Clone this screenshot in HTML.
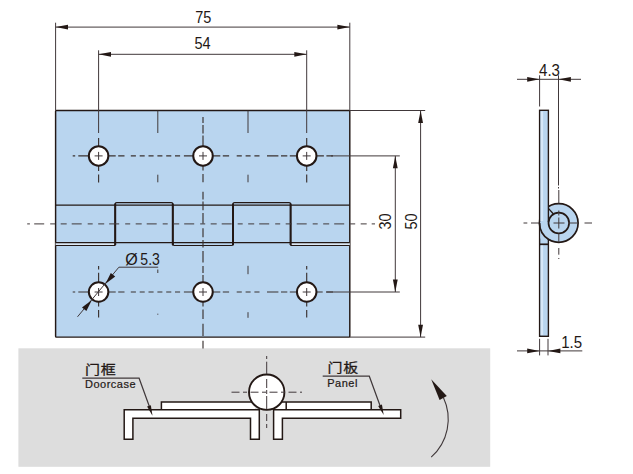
<!DOCTYPE html>
<html lang="zh">
<head>
<meta charset="utf-8">
<title>Hinge drawing</title>
<style>
html,body{margin:0;padding:0;background:#fff;}
body{width:633px;height:474px;overflow:hidden;}
svg{display:block;}
</style>
</head>
<body>
<svg width="633" height="474" viewBox="0 0 633 474">
<rect x="0" y="0" width="633" height="474" fill="#fff"/>
<rect x="18.4" y="348.3" width="471.8" height="118.5" fill="#dddddd"/>
<rect x="55.6" y="110.5" width="294.2" height="226.6" rx="0.8" fill="#b9d5ef" stroke="#231815" stroke-width="1.45"/>
<rect x="55.6" y="242.6" width="59.6" height="2.9" fill="#dce9f6"/>
<rect x="290.6" y="242.6" width="59.2" height="2.9" fill="#dce9f6"/>
<g fill="none" stroke="#231815" stroke-width="1.2" stroke-linejoin="round">
<path d="M55.6,205.1 H349.8"/>
<path d="M55.6,242.6 H349.8"/>
<path d="M55.6,245.5 H115.2 M290.6,245.5 H349.8"/>
<path d="M115.2,245.5 V204.0 Q115.2,202.5 116.7,202.5 H171.3 Q172.8,202.5 172.8,204.0 V245.5" stroke-width="1.25"/><path d="M115.2,203.5 V245.0 M172.8,203.5 V245.0" stroke-width="2"/>
<path d="M233.0,245.5 V204.0 Q233.0,202.5 234.5,202.5 H289.1 Q290.6,202.5 290.6,204.0 V245.5" stroke-width="1.25"/><path d="M233.0,203.5 V245.0 M290.6,203.5 V245.0" stroke-width="2"/>
<path d="M172.8,242.6 V244.0 Q172.8,245.5 174.3,245.5 H231.5 Q233.0,245.5 233.0,244.0 V242.6"/>
</g>
<g fill="none" stroke="#3a3230" stroke-width="1.15">
<path d="M72.7,155.9 H75.2 M78.3,155.9 H90 M108,155.9 H115.7 M118.2,155.9 H124.5 M130.8,155.9 H135.9 M139.7,155.9 H144.7 M148.5,155.9 H153.6 M157.4,155.9 H162.4 M166.2,155.9 H171.3 M175,155.9 H180.1 M183.9,155.9 H194 M212,155.9 H220.3 M222.8,155.9 H229.1 M236.7,155.9 H241.8 M245.6,155.9 H250.6 M254.4,155.9 H259.5 M267,155.9 H278.4 M281,155.9 H287.3 M289.8,155.9 H298 M316,155.9 H323.9 M326.4,155.9 H333"/>
<path d="M72.7,292.0 H75.2 M78.3,292.0 H90 M108,292.0 H115.7 M118.2,292.0 H124.5 M130.8,292.0 H135.9 M139.7,292.0 H144.7 M148.5,292.0 H153.6 M157.4,292.0 H162.4 M166.2,292.0 H171.3 M175,292.0 H180.1 M183.9,292.0 H194 M212,292.0 H220.3 M222.8,292.0 H229.1 M236.7,292.0 H241.8 M245.6,292.0 H250.6 M254.4,292.0 H259.5 M267,292.0 H278.4 M281,292.0 H287.3 M289.8,292.0 H298 M316,292.0 H322.7 M326.4,292.0 H333"/>
<path d="M27.2,223.9 H29.9" stroke="#40383a" stroke-width="1"/>
<path d="M34.2,223.9 H375" stroke-dasharray="10 6 5 5.5 6 5" stroke="#40383a" stroke-width="1"/>
<path d="M203.0,116.9 V123.1 M203.0,125.1 V133.4 M203.0,135.4 V146 M203.0,166 V170.5 M203.0,174 V182.2 M203.0,191.8 V199.4 M203.0,201.4 V210.3 M203.0,213 V223.5 M203.0,228.3 V237.2 M203.0,240 V247.5 M203.0,250.9 V262.6 M203.0,266 V272.9 M203.0,274.9 V282 M203.0,301.5 V306.6 M203.0,309.5 V319 M203.0,323.7 V336 M203.0,340.8 V348.4"/>
<path d="M98.6,138 V146 M98.6,166 V171 M98.6,174.4 V182.6 M98.6,266 V269.4 M98.6,272.8 V282 M98.6,301.5 V306.4 M98.6,309.9 V317.4"/>
<path d="M306.7,138 V146 M306.7,166 V171 M306.7,174.4 V182.6 M306.7,266 V269.4 M306.7,272.8 V282 M306.7,301.5 V306.4 M306.7,309.9 V317.4"/>
<path d="M157.8,110.5 V133 M157.8,174.7 V182.3 M157.8,269.5 V273 M157.8,313.7 V314.7" stroke-width="0.95"/>
<path d="M248.0,110.5 V133 M248.0,174.7 V182.3 M248.0,265.8 V274.2 M248.0,312.2 V317.8" stroke-width="0.95"/>
</g>
<circle cx="98.6" cy="155.9" r="9.75" fill="#fff" stroke="#231815" stroke-width="2"/>
<path d="M94.6,155.9 H102.6 M98.6,151.9 V159.9" stroke="#40383a" stroke-width="1" fill="none"/>
<circle cx="203.0" cy="155.9" r="9.75" fill="#fff" stroke="#231815" stroke-width="2"/>
<path d="M199.0,155.9 H207.0 M203.0,151.9 V159.9" stroke="#40383a" stroke-width="1" fill="none"/>
<circle cx="306.7" cy="155.9" r="9.75" fill="#fff" stroke="#231815" stroke-width="2"/>
<path d="M302.7,155.9 H310.7 M306.7,151.9 V159.9" stroke="#40383a" stroke-width="1" fill="none"/>
<circle cx="98.6" cy="292.0" r="9.75" fill="#fff" stroke="#231815" stroke-width="2"/>
<path d="M94.6,292.0 H102.6 M98.6,288.0 V296.0" stroke="#40383a" stroke-width="1" fill="none"/>
<circle cx="203.0" cy="292.0" r="9.75" fill="#fff" stroke="#231815" stroke-width="2"/>
<path d="M199.0,292.0 H207.0 M203.0,288.0 V296.0" stroke="#40383a" stroke-width="1" fill="none"/>
<circle cx="306.7" cy="292.0" r="9.75" fill="#fff" stroke="#231815" stroke-width="2"/>
<path d="M302.7,292.0 H310.7 M306.7,288.0 V296.0" stroke="#40383a" stroke-width="1" fill="none"/>
<g fill="none" stroke="#40383a" stroke-width="1">
<path d="M55.6,22.7 V110.5 M349.8,22.7 V110.5 M55.6,27.1 H349.8"/>
<path d="M98.6,50.3 V133 M306.7,50.3 V133 M98.6,54.3 H306.7"/>
<path d="M349.8,110.5 H425.2 M349.8,337.1 H425.2 M420.6,110.5 V337.1"/>
<path d="M331,155.9 H399.8 M326,292.0 H399.8 M395.3,155.9 V292.0"/>
<path d="M77.5,316.8 L118.9,267.2 H158.2"/>
</g>
<polygon points="55.60,27.10 68.00,24.70 68.00,29.50" fill="#231815"/>
<polygon points="349.80,27.10 337.40,29.50 337.40,24.70" fill="#231815"/>
<polygon points="98.60,54.30 111.00,51.90 111.00,56.70" fill="#231815"/>
<polygon points="306.70,54.30 294.30,56.70 294.30,51.90" fill="#231815"/>
<polygon points="420.60,110.50 423.00,122.90 418.20,122.90" fill="#231815"/>
<polygon points="420.60,337.10 418.20,324.70 423.00,324.70" fill="#231815"/>
<polygon points="395.30,155.90 397.70,168.30 392.90,168.30" fill="#231815"/>
<polygon points="395.30,292.00 392.90,279.60 397.70,279.60" fill="#231815"/>
<polygon points="105.33,283.94 110.83,272.90 115.21,276.55" fill="#231815"/>
<polygon points="91.87,300.06 86.37,311.10 81.99,307.45" fill="#231815"/>
<g font-family="'Liberation Sans', sans-serif" fill="#231815" font-size="15.6px" text-anchor="middle">
<text transform="translate(203.3,23.2) scale(0.93,1)">75</text>
<text transform="translate(202.6,48.9) scale(0.93,1)">54</text>
<text transform="translate(391.2,221.5) rotate(-90) scale(0.93,1)">30</text>
<text transform="translate(416.6,221.5) rotate(-90) scale(0.93,1)">50</text>
<text transform="translate(125.3,265.0) scale(0.98,1)" font-size="16.4px" text-anchor="start">Ø<tspan dx="2.6" textLength="19.9" lengthAdjust="spacingAndGlyphs">5.3</tspan></text>
<text transform="translate(549.5,75.5) scale(0.93,1)" font-size="16.2px">4.3</text>
<text transform="translate(571.6,347.7) scale(0.93,1)" font-size="16.2px">1.5</text>
</g>
<g stroke="#231815" stroke-width="1.7" fill="#b9d5ef" stroke-linejoin="miter">
<circle cx="558.8" cy="223.0" r="19.3"/>
<rect x="539.6" y="110.3" width="8.8" height="226.0" stroke-width="1.4"/>
<rect x="540.35" y="222.0" width="9.8" height="16.56" stroke="none"/>
<path d="M539.6,223.0 A19.3,19.3 0 0 0 548.4,239.26" fill="none"/>
<circle cx="558.8" cy="223.0" r="10.3"/>
<path d="M548.4,208.4 L553.2,213.8" fill="none" stroke-width="1.3"/>
<path d="M539.6,244.3 H548.4" fill="none"/>
</g>
<path d="M541.9,111.5 V221 M541.9,245.5 V335.1" stroke="#d6e7f8" stroke-width="2.4" fill="none"/>
<g fill="none" stroke="#40383a" stroke-width="1">
<path d="M523.5,223.0 H527.3 M531,223.0 H539 M553.5,223.0 H564.5 M568,223.0 H578 M584.5,223.0 H592"/>
<path d="M558.8,190 V203.5 M558.8,210.5 V215.5 M558.8,217.5 V228.5 M558.8,233.5 V242 M558.8,248 V254.7 M558.8,258 V259" />
</g>
<g fill="none" stroke="#40383a" stroke-width="1">
<path d="M517,79.3 H581 M539.6,75.3 V106.5 M558.5,75.3 V185.5 M558.5,187 V188.5"/>
<path d="M517,350.9 H582.3 M539.6,338.8 V355.4 M548.0,338.8 V355.4"/>
</g>
<polygon points="539.60,79.30 527.20,81.70 527.20,76.90" fill="#231815"/>
<polygon points="558.50,79.30 570.90,76.90 570.90,81.70" fill="#231815"/>
<polygon points="539.60,350.90 527.20,353.30 527.20,348.50" fill="#231815"/>
<polygon points="548.00,350.90 560.40,348.50 560.40,353.30" fill="#231815"/>
<g stroke="#231815" stroke-width="1.5" fill="#fff" stroke-linejoin="miter">
<path d="M255,401.9 H161.4 V409.8 H255" />
<rect x="274" y="401.9" width="97.2" height="7.9" stroke="none"/>
<path d="M282,401.9 H371.2 V409.8 H274 M286.2,401.9 V409.8" fill="none"/>
<path d="M124.2,409.8 H259.3 V439.2 H250.5 V418.3 H132.9 V439.2 H124.2 Z"/>
<path d="M273.6,409.8 H400.7 V418.3 H282.4 V439.2 H273.6 Z"/>
<circle cx="266.7" cy="392.2" r="17.7" stroke-width="1.9"/>
</g>
<g fill="none" stroke="#40383a" stroke-width="1">
<path d="M231.5,392.2 H302" stroke-dasharray="8 3.5 4 3.5"/>
<path d="M266.7,356 V359 M266.7,361.7 V374 M266.7,379 V388 M266.7,390 V394 M266.7,396 V409 M266.7,414 V421 M266.7,424 V428"/>
<path d="M82.3,378.2 H139.1 L151,411" stroke-width="1.2"/>
<path d="M322.7,376.2 H369.3 L382,411" stroke-width="1.2"/>
<path d="M443.4,397.5 A51,51 0 0 1 431.2,457.2" stroke-width="1.1"/>
</g>
<polygon points="152.50,415.80 147.07,406.59 150.84,405.24" fill="#231815"/>
<polygon points="383.70,415.10 378.18,405.94 381.94,404.56" fill="#231815"/>
<polygon points="431.2,379.3 446.8,396.0 439.6,399.9" fill="#231815"/>
<g fill="#231815">
<text transform="translate(85,373.8) scale(1,0.86)" font-family="'Liberation Sans', 'Noto Sans CJK SC', sans-serif" font-size="15px" stroke="#231815" stroke-width="0.3" letter-spacing="0.8">门框</text>
<text x="85" y="388.3" font-family="'Liberation Sans', sans-serif" font-size="11px" stroke="#231815" stroke-width="0.2" letter-spacing="0.5">Doorcase</text>
<text transform="translate(327.4,372.0) scale(1,0.86)" font-family="'Liberation Sans', 'Noto Sans CJK SC', sans-serif" font-size="15px" stroke="#231815" stroke-width="0.3" letter-spacing="0.8">门板</text>
<text x="327.2" y="386.7" font-family="'Liberation Sans', sans-serif" font-size="11px" stroke="#231815" stroke-width="0.2" letter-spacing="0.5">Panel</text>
</g>
</svg>
</body>
</html>
